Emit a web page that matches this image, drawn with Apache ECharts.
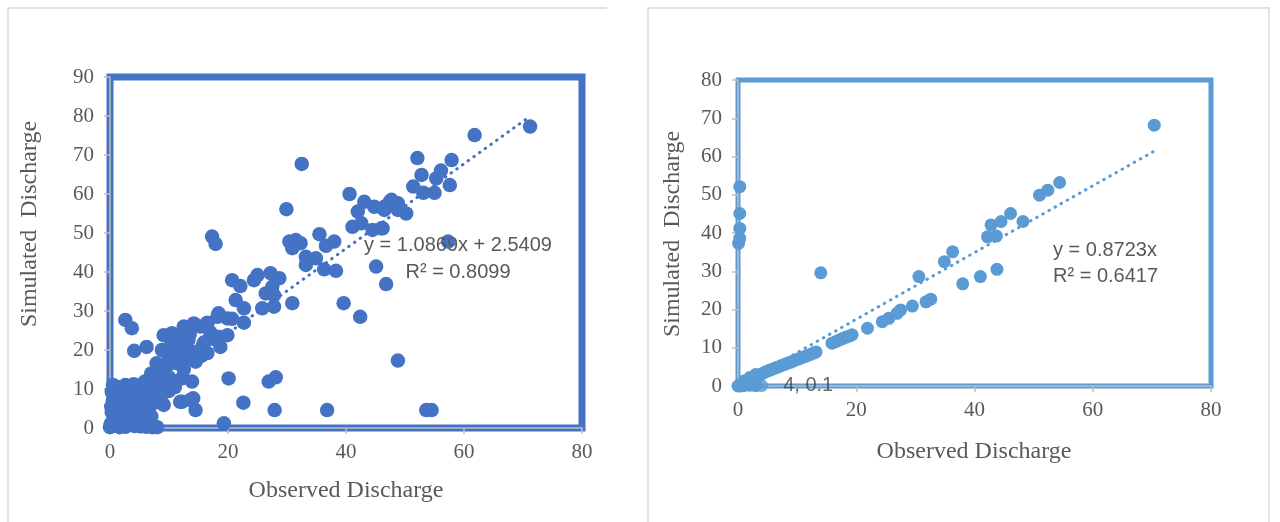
<!DOCTYPE html>
<html>
<head>
<meta charset="utf-8">
<script src="https://cdn.jsdelivr.net/npm/echarts@6/dist/echarts.min.js"></script>
<style>
html,body{margin:0;padding:0;background:#fff;}
#c{width:1280px;height:522px;}
</style>
</head>
<body>
<div id="c"></div>
<script>
// ---------- DATA ----------
const xTicksLeft = [0, 20, 40, 60, 80];
const yTicksLeft = [0, 10, 20, 30, 40, 50, 60, 70, 80, 90];
const xTicksRight = [0, 20, 40, 60, 80];
const yTicksRight = [0, 10, 20, 30, 40, 50, 60, 70, 80];

// left panel: [observed, simulated]
const leftPoints = [
[71.2,77.3],[61.8,75.1],[52.1,69.2],[57.9,68.7],[52.8,64.9],[56.1,66.0],[55.3,64.0],[57.6,62.3],[51.4,61.9],[53.1,60.3],[55.0,60.3],[47.7,58.5],[48.8,57.6],[46.5,56.7],[50.2,55.0],[46.2,51.2],[57.3,47.8],
[32.5,67.7],[29.9,56.1],[17.3,49.1],[17.9,47.2],[40.6,60.0],[43.1,58.0],[42.0,55.5],[44.8,56.7],[47.4,58.0],[46.5,55.9],[48.8,55.9],[41.1,51.6],[42.6,52.5],[44.5,50.8],[46.0,51.2],
[30.4,47.8],[31.5,48.2],[32.3,47.4],[30.9,46.1],[35.5,49.7],[36.6,46.7],[38.0,47.8],[33.2,43.9],[34.9,43.5],[33.2,41.8],[36.3,40.7],[38.3,40.3],[45.1,41.4],[46.8,36.9],
[25.0,39.2],[27.2,39.7],[28.7,38.4],[24.4,37.9],[20.7,37.9],[22.1,36.4],[27.5,36.2],[26.4,34.5],[27.8,34.1],[21.3,32.8],[22.7,30.7],[25.8,30.7],[27.8,31.1],[30.9,32.0],[39.6,32.0],[42.4,28.5],
[18.4,29.0],[19.9,28.1],[22.7,27.0],[16.5,26.8],[20.7,28.0],[18.4,29.4],[18.4,23.4],[18.7,20.8],[19.9,23.8],
[48.8,17.3],[36.8,4.6],[53.6,4.6],[54.5,4.6],[2.6,27.7],[3.7,25.6],[4.1,19.8],[6.2,20.8],[20.1,12.7],[26.9,11.9],[28.1,13.0],[22.6,6.5],[27.9,4.6],[19.3,1.2],
[13.9,11.9],[9.1,5.9],[12.2,6.7],[14.1,7.6],[14.5,4.6],
[8.8,20.0],[10.2,20.8],[11.9,21.7],[13.3,22.6],[15.3,20.0],[16.5,19.2],[9.1,23.8],[10.5,24.3],[12.5,26.0],[14.2,26.8],[15.3,26.0],[18.2,28.5],
[7.9,16.6],[9.6,15.7],[11.4,16.6],[13.1,17.9],[10.5,12.3],[12.2,12.7],[5.7,11.5],[7.4,11.0],[4.5,9.7],[2.6,11.0],[1.1,10.6],[0.3,9.3],
[8.8,6.3],[11.9,6.7],[13.6,7.2],[12.0,19.0],[13.0,20.5],[14.0,19.5],[11.0,18.5],[12.5,15.0],[14.5,17.0],[15.5,18.5],[16.0,22.0],[17.0,24.5],[16.5,27.0],
[13.5,24.0],[12.0,23.5],[11.0,22.0],[10.0,18.0],[9.0,13.5],[8.0,12.5],[7.0,14.0],[6.0,9.0],[6.5,7.5],[5.0,8.0],[4.0,7.0],[3.0,8.5],[2.0,7.5],[1.5,9.0],
[0.5,7.0],[0.2,5.5],[1.0,5.0],[2.5,5.5],[3.5,4.5],[4.5,5.0],[5.5,6.0],[1.8,3.5],[0.8,3.0],[2.8,2.5],[3.8,3.0],[0.1,1.0],[0.4,0.5],[1.2,1.5],[2.2,1.0],
[3.2,0.8],[4.2,0.5],[5.2,0.4],[6.2,0.3],[7.2,0.2],[8.0,0.2],[0.0,0.2],[1.6,0.2],[2.6,0.3],[0.6,2.0],[0.3,4.0],[1.4,6.5],[2.4,9.8],[3.4,10.2],[4.0,11.2],
[5.0,10.5],[6.6,10.0],[7.5,9.0],[8.5,10.5],[9.5,11.2],[10.0,9.5],[11.0,10.5],[6.0,12.0],[3.0,6.5],[4.5,2.0],[5.5,3.0],[6.5,4.5],[7.0,6.0],[17.0,23.0],[15.8,21.5],
[1.0,8.0],[2.0,4.0],[3.6,8.0],[5.0,4.2],[6.0,6.5],[8.0,8.0],[9.0,9.0],[7.0,3.0],[0.5,11.0],[1.5,2.5]
];
const leftTrend = [[0, 2.54], [71.2, 79.93]];
const leftEq = 'y = 1.0869x + 2.5409';
const leftR2 = 'R² = 0.8099';

// right panel: [observed, simulated]
const rightPoints = [
[70.4,68.2],[54.4,53.2],[52.4,51.2],[51.0,49.9],[46.1,45.1],[48.2,43.0],[44.5,43.0],[42.8,42.1],[43.7,39.2],[42.2,39.0],[36.3,35.1],[34.9,32.5],[30.6,28.6],
[43.8,30.5],[41.0,28.6],[38.0,26.7],[32.6,22.7],[31.8,22.0],[29.5,20.9],[27.5,19.9],[26.9,19.0],[25.5,17.7],[24.4,16.8],[21.9,15.1],
[0.3,52.1],[0.3,45.1],[0.3,41.2],[0.3,38.6],[0.1,37.3],[14.0,29.6],
[15.9,11.2],[16.5,11.6],[17.1,12.0],[17.7,12.4],[18.3,12.8],[18.9,13.1],[19.3,13.4],
[0.2,0.1],[0.5,0.3],[0.8,0.5],[1.1,0.8],[1.5,1.1],[1.9,1.4],[2.3,1.8],[2.7,2.1],[3.1,2.4],[3.5,2.8],[3.9,3.1],[4.3,3.4],[4.8,3.8],[5.3,4.1],
[5.8,4.4],[6.3,4.7],[6.8,5.0],[7.3,5.3],[7.8,5.6],[8.3,5.9],[8.8,6.2],[9.3,6.5],[9.8,6.8],[10.3,7.1],[10.8,7.4],[11.3,7.7],[11.8,8.0],[12.3,8.3],[12.8,8.6],[13.2,8.9],
[1.0,1.3],[2.0,2.2],[3.0,3.0],[0.0,0.0],[0.5,0.0],[1.0,0.1],[2.0,0.2],[3.0,0.1]
];
const rightLabelPoint = [4, 0.1];
const rightLabel = '4, 0.1';
const rightTrend = [[0, 0], [70.4, 61.41]];
const rightEq = 'y = 0.8723x';
const rightR2 = 'R² = 0.6417';

const xTitle = 'Observed Discharge';
const yTitle = 'Simulated  Discharge';

// ---------- STYLE ----------
const serif = 'Liberation Serif';
const sans = 'Liberation Sans';
const grey = '#595959';
const axisGrey = '#bfbfbf';
const blueL = '#4472c4';
const blueR = '#5b9bd5';

function xAxisCfg(grid, ticks){
  return {
    type:'value', gridIndex:grid, min:ticks[0], max:ticks[ticks.length-1], interval:ticks[1]-ticks[0],
    axisLine:{show:true, onZero:false, lineStyle:{color:axisGrey, width:1.5}},
    axisTick:{show:true, inside:false, length:6, lineStyle:{color:axisGrey, width:1.5}},
    axisLabel:{color:grey, fontFamily:serif, fontSize:21, margin:14},
    splitLine:{show:false}
  };
}
function yAxisCfg(grid, ticks){
  return {
    type:'value', gridIndex:grid, min:ticks[0], max:ticks[ticks.length-1], interval:ticks[1]-ticks[0],
    axisLine:{show:true, onZero:false, lineStyle:{color:axisGrey, width:1.5}},
    axisTick:{show:true, inside:false, length:6, lineStyle:{color:axisGrey, width:1.5}},
    axisLabel:{color:grey, fontFamily:serif, fontSize:21, margin:16},
    splitLine:{show:false}
  };
}

const chart = echarts.init(document.getElementById('c'), null, {renderer:'canvas'});
const option = {
  animation:false,
  backgroundColor:'#ffffff',
  grid:[
    {left:110, top:77, width:472, height:351, show:true, borderColor:blueL, borderWidth:7, backgroundColor:'transparent'},
    {left:738, top:80, width:473, height:306, show:true, borderColor:blueR, borderWidth:5, backgroundColor:'transparent'}
  ],
  xAxis:[xAxisCfg(0, xTicksLeft), xAxisCfg(1, xTicksRight)],
  yAxis:[yAxisCfg(0, yTicksLeft), yAxisCfg(1, yTicksRight)],
  series:[
    {type:'line', xAxisIndex:0, yAxisIndex:0, data:leftTrend, symbol:'none', z:1,
     lineStyle:{color:blueL, width:3, type:[0.5,6.5], cap:'round'}, silent:true},
    {type:'scatter', xAxisIndex:0, yAxisIndex:0, data:leftPoints, symbolSize:14.5, clip:false, z:2,
     itemStyle:{color:blueL, opacity:1}},
    {type:'line', xAxisIndex:1, yAxisIndex:1, data:rightTrend, symbol:'none', z:1,
     lineStyle:{color:blueR, width:3, type:[0.5,6.5], cap:'round'}, silent:true},
    {type:'scatter', xAxisIndex:1, yAxisIndex:1, data:rightPoints, symbolSize:13, clip:false, z:2,
     itemStyle:{color:blueR, opacity:1}},
    {type:'scatter', xAxisIndex:1, yAxisIndex:1, data:[rightLabelPoint], symbolSize:13, clip:false, z:3,
     itemStyle:{color:blueR},
     label:{show:true, position:'right', distance:15, formatter:rightLabel, color:'#404040', fontFamily:sans, fontSize:20}}
  ],
  graphic:[
    // chart area frames
    {type:'line', shape:{x1:8, y1:8, x2:607, y2:8}, style:{stroke:'#d9d9d9', lineWidth:1.5}},
    {type:'line', shape:{x1:8, y1:8, x2:8, y2:522}, style:{stroke:'#d9d9d9', lineWidth:1.5}},
    {type:'rect', shape:{x:648, y:8, width:621, height:530}, style:{fill:'none', stroke:'#d9d9d9', lineWidth:1.5}},
    // axis titles
    {type:'text', x:346, y:491, style:{text:xTitle, fill:grey, font:'24px "Liberation Serif"', align:'center', verticalAlign:'middle'}},
    {type:'text', x:30, y:224, rotation:Math.PI/2, style:{text:yTitle, fill:grey, font:'24px "Liberation Serif"', align:'center', verticalAlign:'middle'}},
    {type:'text', x:974, y:452, style:{text:xTitle, fill:grey, font:'24px "Liberation Serif"', align:'center', verticalAlign:'middle'}},
    {type:'text', x:673, y:234, rotation:Math.PI/2, style:{text:yTitle, fill:grey, font:'24px "Liberation Serif"', align:'center', verticalAlign:'middle'}},
    // trendline equations
    {type:'text', x:458, y:245, z:10, style:{text:leftEq, fill:grey, font:'20px "Liberation Sans"', align:'center', verticalAlign:'middle'}},
    {type:'text', x:458, y:272, z:10, style:{text:leftR2, fill:grey, font:'20px "Liberation Sans"', align:'center', verticalAlign:'middle'}},
    {type:'text', x:1053, y:250, z:10, style:{text:rightEq, fill:grey, font:'20px "Liberation Sans"', align:'left', verticalAlign:'middle'}},
    {type:'text', x:1053, y:276, z:10, style:{text:rightR2, fill:grey, font:'20px "Liberation Sans"', align:'left', verticalAlign:'middle'}}
  ]
};
chart.setOption(option);
</script>
</body>
</html>
